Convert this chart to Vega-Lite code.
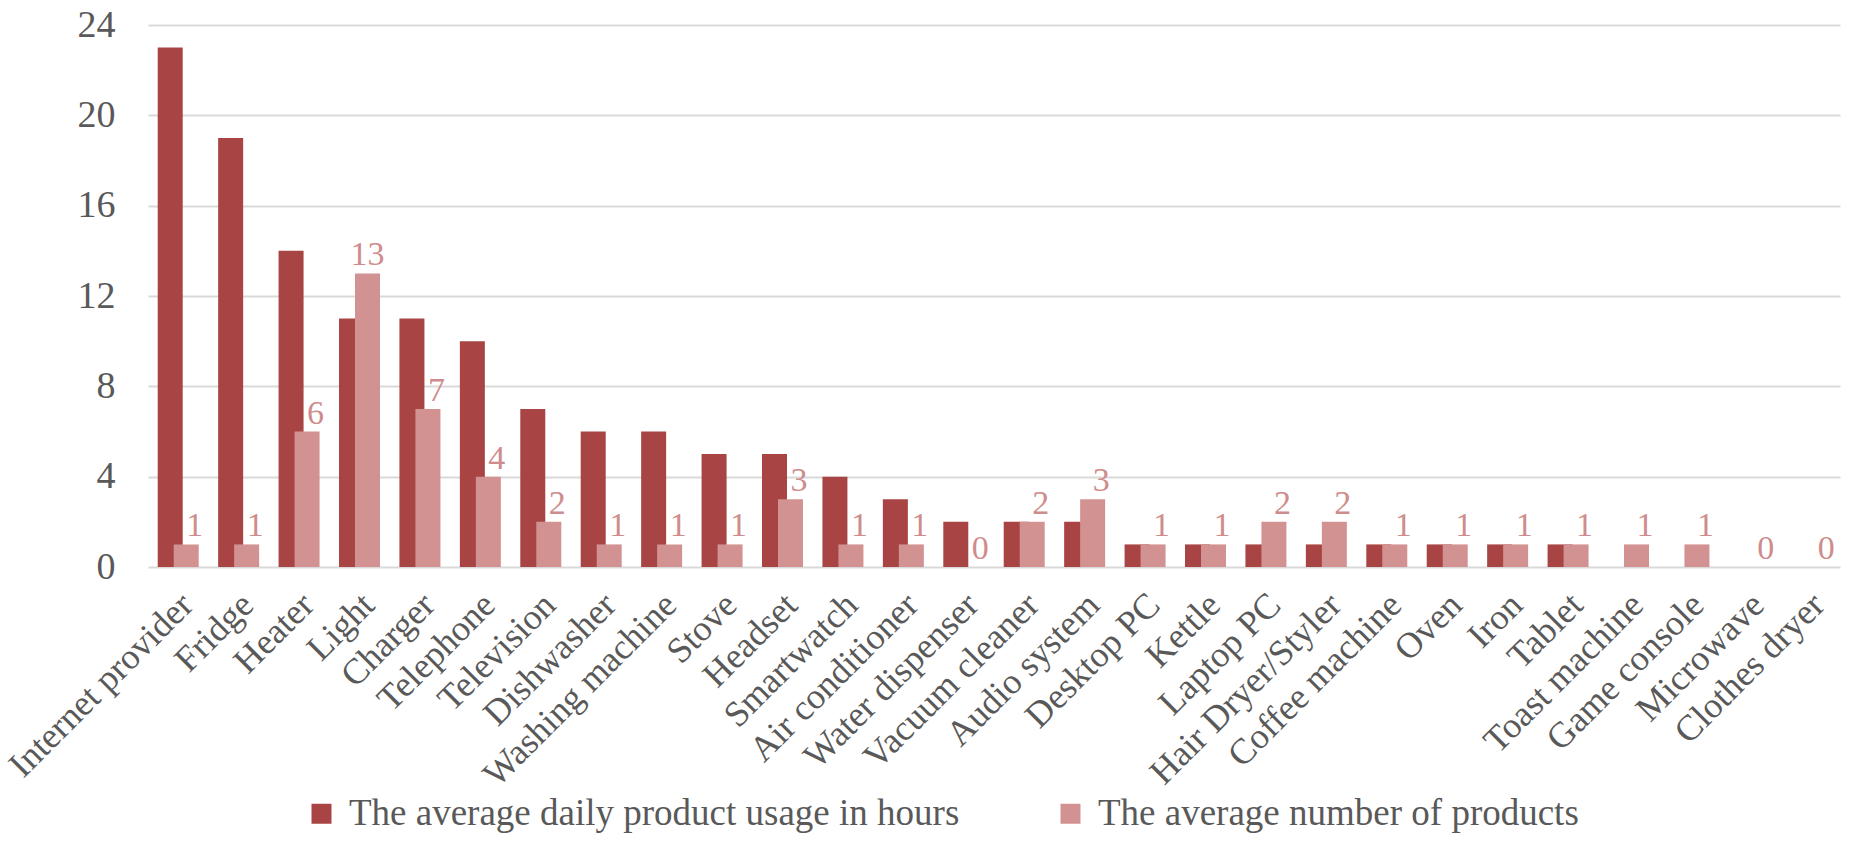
{
  "$schema": "https://vega.github.io/schema/vega-lite/v6.json",
  "width": 1692,
  "height": 542,
  "autosize": "none",
  "padding": {"left": 148, "top": 25, "right": 12, "bottom": 274},
  "background": "white",
  "data": {
    "values": [
      {"product": "Internet provider", "hours": 23, "products": 1},
      {"product": "Fridge", "hours": 19, "products": 1},
      {"product": "Heater", "hours": 14, "products": 6},
      {"product": "Light", "hours": 11, "products": 13},
      {"product": "Charger", "hours": 11, "products": 7},
      {"product": "Telephone", "hours": 10, "products": 4},
      {"product": "Television", "hours": 7, "products": 2},
      {"product": "Dishwasher", "hours": 6, "products": 1},
      {"product": "Washing machine", "hours": 6, "products": 1},
      {"product": "Stove", "hours": 5, "products": 1},
      {"product": "Headset", "hours": 5, "products": 3},
      {"product": "Smartwatch", "hours": 4, "products": 1},
      {"product": "Air conditioner", "hours": 3, "products": 1},
      {"product": "Water dispenser", "hours": 2, "products": 0},
      {"product": "Vacuum cleaner", "hours": 2, "products": 2},
      {"product": "Audio system", "hours": 2, "products": 3},
      {"product": "Desktop PC", "hours": 1, "products": 1},
      {"product": "Kettle", "hours": 1, "products": 1},
      {"product": "Laptop PC", "hours": 1, "products": 2},
      {"product": "Hair Dryer/Styler", "hours": 1, "products": 2},
      {"product": "Coffee machine", "hours": 1, "products": 1},
      {"product": "Oven", "hours": 1, "products": 1},
      {"product": "Iron", "hours": 1, "products": 1},
      {"product": "Tablet", "hours": 1, "products": 1},
      {"product": "Toast machine", "hours": 0, "products": 1},
      {"product": "Game console", "hours": 0, "products": 1},
      {"product": "Microwave", "hours": 0, "products": 0},
      {"product": "Clothes dryer", "hours": 0, "products": 0}
    ]
  },
  "transform": [
    {"fold": ["hours", "products"], "as": ["series", "value"]}
  ],
  "encoding": {
    "x": {
      "field": "product",
      "type": "nominal",
      "sort": null,
      "title": null,
      "scale": {"paddingInner": 0, "paddingOuter": 0},
      "axis": {
        "labelAngle": -45,
        "labelAlign": "right",
        "labelBaseline": "top",
        "labelPadding": 20,
        "labelOffset": -3,
        "labelFontSize": 36,
        "ticks": false,
        "domain": false,
        "grid": false,
        "labelLimit": 1000
      }
    },
    "y": {
      "field": "value",
      "type": "quantitative",
      "title": null,
      "scale": {"domain": [0, 24], "nice": false},
      "axis": {
        "values": [0, 4, 8, 12, 16, 20, 24],
        "labelFontSize": 38,
        "labelPadding": 33,
        "ticks": false,
        "domain": false,
        "gridColor": "#d9d9d9",
        "gridWidth": 2
      }
    }
  },
  "layer": [
    {
      "transform": [{"filter": "datum.series == 'hours'"}],
      "mark": {"type": "bar", "width": 25, "xOffset": -8},
      "encoding": {
        "color": {
          "field": "series",
          "type": "nominal",
          "scale": {"domain": ["hours", "products"], "range": ["#a84444", "#d39292"]},
          "legend": {
            "title": null,
            "labelExpr": "datum.label == 'hours' ? 'The average daily product usage in hours' : 'The average number of products'"
          }
        }
      }
    },
    {
      "transform": [{"filter": "datum.series == 'products'"}],
      "mark": {"type": "bar", "width": 25, "xOffset": 8},
      "encoding": {
        "color": {"field": "series", "type": "nominal"}
      }
    },
    {
      "transform": [{"filter": "datum.series == 'products'"}],
      "mark": {
        "type": "text",
        "align": "right",
        "baseline": "alphabetic",
        "xOffset": 25,
        "dy": -8,
        "fontSize": 34,
        "font": "Liberation Serif",
        "color": "#cf8c8c"
      },
      "encoding": {
        "text": {"field": "value", "type": "quantitative"}
      }
    }
  ],
  "config": {
    "view": {"stroke": null},
    "axis": {
      "labelFont": "Liberation Serif",
      "labelColor": "#595959"
    },
    "legend": {
      "orient": "none",
      "legendX": 155,
      "legendY": 770,
      "direction": "horizontal",
      "symbolType": "square",
      "symbolSize": 400,
      "symbolStrokeWidth": 0,
      "labelFont": "Liberation Serif",
      "labelFontSize": 37,
      "labelColor": "#595959",
      "labelOffset": 9,
      "labelLimit": 1000,
      "columnPadding": 92
    }
  }
}
